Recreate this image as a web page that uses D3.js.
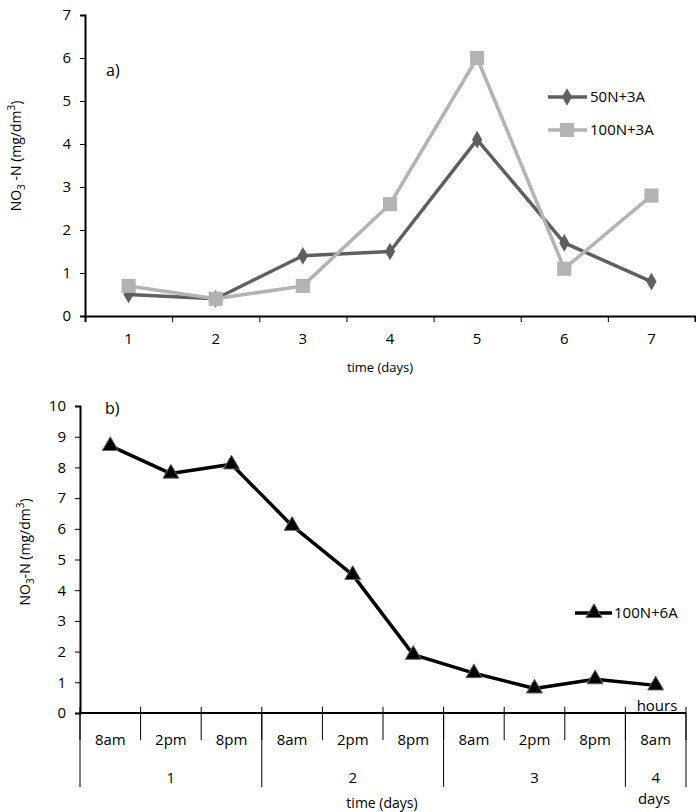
<!DOCTYPE html>
<html>
<head>
<meta charset="utf-8">
<script src="https://cdn.jsdelivr.net/npm/d3@7"></script>
<style>
  body { margin: 0; background: #fff; }
  svg text { font-family: "Open Sans", "Noto Sans", sans-serif; fill: #000; }
  .axis path, .axis line { stroke: #000; }
  .axis text { font-size: 15px; font-family: "Open Sans", "Noto Sans", sans-serif; }
</style>
</head>
<body>
<script>
// chart a data
var daysA = ["1", "2", "3", "4", "5", "6", "7"];
var s50N3A = [0.5, 0.4, 1.4, 1.5, 4.1, 1.7, 0.8];
var s100N3A = [0.7, 0.4, 0.7, 2.6, 6.0, 1.1, 2.8];
var yTicksA = [0, 1, 2, 3, 4, 5, 6, 7];

// chart b data
var hoursB = ["8am", "2pm", "8pm", "8am", "2pm", "8pm", "8am", "2pm", "8pm", "8am"];
var dayGroups = [{label: "1", start: 0, end: 3}, {label: "2", start: 3, end: 6},
                 {label: "3", start: 6, end: 9}, {label: "4", start: 9, end: 10}];
var s100N6A = [8.7, 7.8, 8.1, 6.1, 4.5, 1.9, 1.3, 0.8, 1.1, 0.9];
var yTicksB = [0, 1, 2, 3, 4, 5, 6, 7, 8, 9, 10];

var w = 696, h = 812;

var svg = d3.select("body").append("svg")
    .attr("width", w)
    .attr("height", h);

function yLabel(g, x, y, size, gap) {
  var t = g.append("text")
      .attr("transform", "translate(" + x + "," + y + ") rotate(-90)")
      .attr("text-anchor", "middle")
      .style("font-size", size + "px");
  t.append("tspan").text("NO");
  t.append("tspan").text("3").style("font-size", "10px").attr("dy", 4);
  t.append("tspan").text(gap + "-N (mg/dm").attr("dy", -4);
  t.append("tspan").text("3").style("font-size", "10px").attr("dy", -6);
  t.append("tspan").text(")").attr("dy", 6);
}

// ---------- chart a ----------
var xA0 = 85, xA1 = 695, yA0 = 316, yA1 = 15;

var xBandA = d3.scaleBand().domain(daysA).range([xA0, xA1]);
var xLinA = d3.scaleLinear().domain([0, daysA.length]).range([xA0, xA1]);
var yA = d3.scaleLinear().domain([0, 7]).range([yA0, yA1]);

var gA = svg.append("g");

gA.append("g").attr("class", "axis")
    .attr("transform", "translate(" + xA0 + ",0)")
    .call(d3.axisLeft(yA).tickValues(yTicksA).tickFormat(d3.format("d")).tickSize(5).tickPadding(9))
    .call(function(g) { g.select(".domain").attr("stroke-width", 2); });

gA.append("g").attr("class", "axis")
    .attr("transform", "translate(0," + yA0 + ")")
    .call(d3.axisBottom(xLinA).ticks(daysA.length).tickFormat("").tickSize(6).tickSizeOuter(6))
    .call(function(g) { g.select(".domain").attr("stroke-width", 2); });

gA.append("g").attr("class", "axis")
    .attr("transform", "translate(0," + yA0 + ")")
    .call(d3.axisBottom(xBandA).tickSize(0).tickPadding(17))
    .call(function(g) { g.select(".domain").remove(); });

gA.append("text").attr("x", 380).attr("y", 372).attr("text-anchor", "middle")
    .style("font-size", "13px").text("time (days)");
gA.append("text").attr("x", 106).attr("y", 76)
    .style("font-size", "16px").text("a)");
yLabel(gA, 21, 156, 14, " ");

var lineA = d3.line()
    .x(function(d, i) { return xBandA(daysA[i]) + xBandA.bandwidth() / 2; })
    .y(function(d) { return yA(d); });

var seriesA = [
  {name: "50N+3A", values: s50N3A, color: "#5f5f5f", symbol: d3.symbolDiamond, size: 90},
  {name: "100N+3A", values: s100N3A, color: "#b3b3b3", symbol: d3.symbolSquare, size: 200}
];

seriesA.forEach(function(s) {
  gA.append("path").datum(s.values)
      .attr("fill", "none")
      .attr("stroke", s.color)
      .attr("stroke-width", 3.5)
      .attr("stroke-linejoin", "round")
      .attr("d", lineA);
  gA.selectAll(null).data(s.values).enter().append("path")
      .attr("transform", function(d, i) {
        return "translate(" + (xBandA(daysA[i]) + xBandA.bandwidth() / 2) + "," + yA(d) + ")";
      })
      .attr("d", d3.symbol().type(s.symbol).size(s.size))
      .attr("fill", s.color);
});

// legend a
var legA = gA.append("g");
seriesA.forEach(function(s, i) {
  var ly = 97 + i * 33;
  legA.append("line").attr("x1", 548).attr("x2", 587).attr("y1", ly).attr("y2", ly)
      .attr("stroke", s.color).attr("stroke-width", 3.5);
  legA.append("path").attr("transform", "translate(567," + ly + ")")
      .attr("d", d3.symbol().type(s.symbol).size(s.size)).attr("fill", s.color);
  legA.append("text").attr("x", 590).attr("y", ly + 5)
      .style("font-size", "15px").text(s.name);
});

// ---------- chart b ----------
var xB0 = 80, xB1 = 686, yB0 = 713, yB1 = 406;

var idx = d3.range(hoursB.length);
var xBandB = d3.scaleBand().domain(idx).range([xB0, xB1]);
var xLinB = d3.scaleLinear().domain([0, hoursB.length]).range([xB0, xB1]);
var yB = d3.scaleLinear().domain([0, 10]).range([yB0, yB1]);

var gB = svg.append("g");

gB.append("g").attr("class", "axis")
    .attr("transform", "translate(" + xB0 + ",0)")
    .call(d3.axisLeft(yB).tickValues(yTicksB).tickFormat(d3.format("d")).tickSize(5).tickPadding(9))
    .call(function(g) { g.select(".domain").attr("stroke-width", 2); });

gB.append("line").attr("x1", xB0).attr("x2", xB1).attr("y1", yB0).attr("y2", yB0)
    .attr("stroke", "#000").attr("stroke-width", 2);

// hour dividers
gB.selectAll(".hdiv").data(d3.range(hoursB.length + 1)).enter().append("line")
    .attr("x1", function(d) { return xLinB(d); })
    .attr("x2", function(d) { return xLinB(d); })
    .attr("y1", yB0 - 6)
    .attr("y2", yB0 + 27)
    .attr("stroke", "#000");

// day dividers
var dayEdges = [0].concat(dayGroups.map(function(d) { return d.end; }));
gB.selectAll(".ddiv").data(dayEdges).enter().append("line")
    .attr("x1", function(d) { return xLinB(d); })
    .attr("x2", function(d) { return xLinB(d); })
    .attr("y1", yB0)
    .attr("y2", yB0 + 74)
    .attr("stroke", "#000");

gB.selectAll(".hlab").data(hoursB).enter().append("text")
    .attr("x", function(d, i) { return xBandB(i) + xBandB.bandwidth() / 2; })
    .attr("y", yB0 + 32)
    .attr("text-anchor", "middle")
    .style("font-size", "15px")
    .text(function(d) { return d; });

gB.selectAll(".dlab").data(dayGroups).enter().append("text")
    .attr("x", function(d) { return (xLinB(d.start) + xLinB(d.end)) / 2; })
    .attr("y", yB0 + 70)
    .attr("text-anchor", "middle")
    .style("font-size", "15px")
    .text(function(d) { return d.label; });

gB.append("text").attr("x", 382).attr("y", 808).attr("text-anchor", "middle")
    .style("font-size", "14px").text("time (days)");
gB.append("text").attr("x", 654).attr("y", 804).attr("text-anchor", "middle")
    .style("font-size", "15px").text("days");
gB.append("text").attr("x", 657).attr("y", 711).attr("text-anchor", "middle")
    .style("font-size", "15px").text("hours");
gB.append("text").attr("x", 105).attr("y", 414)
    .style("font-size", "16px").text("b)");
yLabel(gB, 30, 552, 14, "");

var lineB = d3.line()
    .x(function(d, i) { return xBandB(i) + xBandB.bandwidth() / 2; })
    .y(function(d) { return yB(d); });

gB.append("path").datum(s100N6A)
    .attr("fill", "none")
    .attr("stroke", "#000")
    .attr("stroke-width", 3.5)
    .attr("stroke-linejoin", "round")
    .attr("d", lineB);

gB.selectAll(".mk").data(s100N6A).enter().append("path")
    .attr("transform", function(d, i) {
      return "translate(" + (xBandB(i) + xBandB.bandwidth() / 2) + "," + yB(d) + ")";
    })
    .attr("d", d3.symbol().type(d3.symbolTriangle).size(110))
    .attr("fill", "#000")
    .attr("stroke", "#666")
    .attr("stroke-width", 1);

// legend b
var legB = gB.append("g");
legB.append("line").attr("x1", 575).attr("x2", 612).attr("y1", 613).attr("y2", 613)
    .attr("stroke", "#000").attr("stroke-width", 3.5);
legB.append("path").attr("transform", "translate(594,613)")
    .attr("d", d3.symbol().type(d3.symbolTriangle).size(110))
    .attr("fill", "#000").attr("stroke", "#666");
legB.append("text").attr("x", 614).attr("y", 618)
    .style("font-size", "15px").text("100N+6A");
</script>
</body>
</html>
